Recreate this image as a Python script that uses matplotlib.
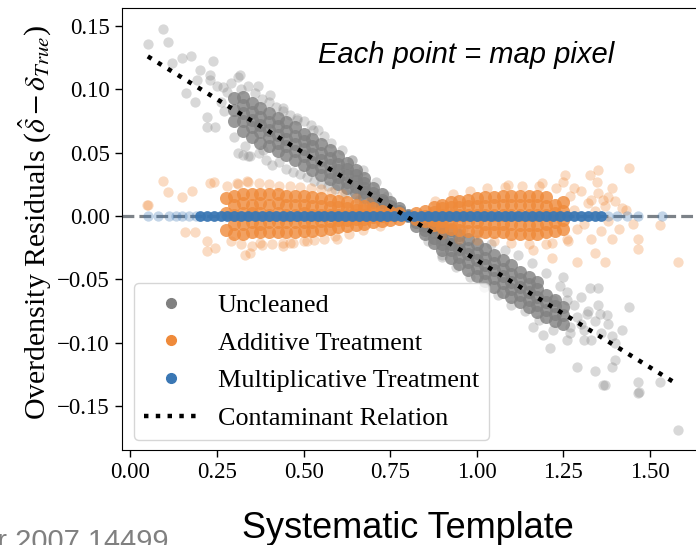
import matplotlib
matplotlib.use("Agg")
import matplotlib.pyplot as plt
from matplotlib.lines import Line2D

# cores (columns of x, with the y values read in each column)
grey_left_cols = [0.300, 0.325, 0.350, 0.375, 0.400, 0.425, 0.450, 0.475, 0.500, 0.525, 0.550,
                  0.575, 0.600, 0.625, 0.650, 0.675, 0.700, 0.725, 0.750, 0.775, 0.800]
grey_left_vals = [
    [0.075, 0.084, 0.093],
    [0.067, 0.075, 0.081, 0.088, 0.094],
    [0.062, 0.070, 0.076, 0.082, 0.089],
    [0.058, 0.066, 0.072, 0.078, 0.085],
    [0.055, 0.062, 0.068, 0.074, 0.081],
    [0.051, 0.058, 0.064, 0.071, 0.077],
    [0.048, 0.055, 0.061, 0.067, 0.074],
    [0.044, 0.051, 0.057, 0.063, 0.070],
    [0.040, 0.047, 0.053, 0.059, 0.065],
    [0.036, 0.043, 0.049, 0.055, 0.061],
    [0.032, 0.039, 0.044, 0.050, 0.057],
    [0.029, 0.035, 0.040, 0.046, 0.052],
    [0.025, 0.031, 0.036, 0.041, 0.047],
    [0.022, 0.027, 0.032, 0.037, 0.042],
    [0.018, 0.023, 0.028, 0.032, 0.036],
    [0.015, 0.019, 0.022, 0.026, 0.030],
    [0.011, 0.015, 0.018, 0.022],
    [0.008, 0.011, 0.013, 0.017],
    [0.005, 0.008, 0.011],
    [0.002, 0.004, 0.006],
    [0.000, 0.001],
]
grey_right_cols = [0.825, 0.850, 0.875, 0.900, 0.925, 0.950, 0.975, 1.000, 1.025, 1.050,
                   1.075, 1.100, 1.125, 1.150, 1.175, 1.200, 1.225, 1.250]
grey_right_vals = [
    [-0.008, -0.005, -0.002],
    [-0.014, -0.011, -0.008, -0.005],
    [-0.021, -0.017, -0.013, -0.009, -0.006],
    [-0.027, -0.022, -0.018, -0.013, -0.009],
    [-0.033, -0.027, -0.022, -0.017, -0.011],
    [-0.038, -0.032, -0.026, -0.021, -0.015],
    [-0.043, -0.036, -0.030, -0.025, -0.018],
    [-0.047, -0.041, -0.035, -0.029, -0.022],
    [-0.051, -0.045, -0.039, -0.033, -0.026],
    [-0.056, -0.049, -0.043, -0.037, -0.031],
    [-0.060, -0.053, -0.047, -0.042, -0.035],
    [-0.064, -0.058, -0.052, -0.046, -0.039],
    [-0.068, -0.062, -0.056, -0.050, -0.044],
    [-0.072, -0.066, -0.060, -0.054, -0.048],
    [-0.076, -0.070, -0.064, -0.058, -0.052],
    [-0.080, -0.074, -0.068, -0.062],
    [-0.083, -0.077, -0.071, -0.066],
    [-0.085, -0.078, -0.072],
]
grey_halo_x = [0.29, 0.30, 0.31, 0.31, 0.32, 0.33, 0.34, 0.34, 0.36, 0.37, 0.38, 0.39, 0.40, 0.41,
               0.42, 0.43, 0.44, 0.45, 0.46, 0.47, 0.48, 0.49, 0.50, 0.51, 0.52, 0.53, 0.54, 0.55,
               0.56, 0.57, 0.58, 0.59, 0.61, 0.62, 0.64, 0.66, 0.67, 0.69, 0.71, 0.74,
               0.325, 0.345, 0.317, 0.368, 0.403, 0.44, 0.48, 0.527, 0.64, 0.383,
               0.86, 0.88, 0.90, 0.92, 0.94, 0.96, 0.98, 1.00, 1.02, 1.04, 1.06, 1.08, 1.10, 1.12,
               1.14, 1.16, 1.18, 1.20, 1.22, 1.24, 1.26, 1.27, 1.28, 1.29, 1.30, 1.31, 1.32, 1.33,
               1.34, 1.35, 1.36, 1.38, 1.40, 1.42]
grey_halo_y = [0.105, 0.062, 0.110, 0.050, 0.100, 0.055, 0.103, 0.047, 0.097, 0.050, 0.092, 0.044,
               0.090, 0.040, 0.086, 0.043, 0.083, 0.037, 0.080, 0.035, 0.077, 0.033, 0.075, 0.031,
               0.072, 0.028, 0.068, 0.025, 0.063, 0.024, 0.058, 0.021, 0.052, 0.018, 0.044, 0.013,
               0.036, 0.009, 0.027, 0.016,
               0.048, 0.047, 0.111, 0.103, 0.0955, 0.085, 0.076, 0.068, 0.044, 0.052,
               -0.020, -0.003, -0.032, -0.005, -0.040, -0.010, -0.048, -0.014, -0.056, -0.022,
               -0.062, -0.027, -0.070, -0.031, -0.075, -0.037, -0.082, -0.045, -0.090, -0.055,
               -0.060, -0.092, -0.070, -0.080, -0.064, -0.090, -0.075, -0.098, -0.083, -0.070,
               -0.092, -0.085, -0.100, -0.090]
grey_out_x = [0.05, 0.094, 0.108, 0.12, 0.149, 0.175, 0.238, 0.16, 0.192, 0.186, 0.22, 0.22, 0.244,
              0.23, 0.267, 0.20, 0.23, 0.26, 0.27, 0.28, 0.25,
              1.21, 1.29, 1.34, 1.37, 1.39, 1.44, 1.466, 1.466, 1.53, 1.58, 1.163, 1.19, 1.25, 1.327,
              1.35, 1.356, 1.375, 1.39, 1.40, 1.26, 1.31, 1.30, 1.27, 1.22, 1.26, 1.318, 0.90, 1.365,
              1.468]
grey_out_y = [0.136, 0.148, 0.137, 0.121, 0.125, 0.126, 0.122, 0.097, 0.107, 0.090, 0.078, 0.070,
              0.070, 0.107, 0.102, 0.115, 0.111, 0.090, 0.083, 0.098, 0.103,
              -0.104, -0.119, -0.122, -0.133, -0.119, -0.072, -0.131, -0.140, -0.131, -0.169,
              -0.0875, -0.094, -0.048, -0.057, -0.057, -0.077, -0.078, -0.095, -0.114, -0.098,
              -0.098, -0.085, -0.0875, -0.066, -0.066, -0.077, -0.031, -0.133, -0.139]

orange_left_cols = [0.275, 0.300, 0.325, 0.350, 0.375, 0.400, 0.425, 0.450, 0.475, 0.500, 0.525,
                    0.550, 0.575, 0.600, 0.625, 0.650, 0.675, 0.700, 0.725, 0.750, 0.775]
orange_left_vals = [
    [-0.011, 0.002, 0.014],
    [-0.014, -0.006, 0.001, 0.009, 0.016],
    [-0.014, -0.006, 0.002, 0.010, 0.017],
    [-0.013, -0.005, 0.002, 0.009, 0.017],
    [-0.013, -0.006, 0.002, 0.010, 0.017],
    [-0.013, -0.005, 0.001, 0.009, 0.017],
    [-0.013, -0.005, 0.002, 0.010, 0.017],
    [-0.013, -0.005, 0.001, 0.009, 0.016],
    [-0.013, -0.005, 0.001, 0.009, 0.016],
    [-0.012, -0.005, 0.002, 0.009, 0.016],
    [-0.012, -0.005, 0.001, 0.008, 0.015],
    [-0.011, -0.004, 0.001, 0.008, 0.014],
    [-0.010, -0.004, 0.001, 0.007, 0.013],
    [-0.009, -0.003, 0.001, 0.007, 0.012],
    [-0.008, -0.003, 0.001, 0.006, 0.011],
    [-0.007, -0.002, 0.001, 0.005, 0.009],
    [-0.006, -0.002, 0.001, 0.005, 0.008],
    [-0.005, -0.001, 0.002, 0.006],
    [-0.004, 0.000, 0.004],
    [-0.003, 0.001, 0.003],
    [-0.002, 0.002],
]
orange_right_cols = [0.825, 0.850, 0.875, 0.900, 0.925, 0.950, 0.975, 1.000, 1.025, 1.050,
                     1.075, 1.100, 1.125, 1.150, 1.175, 1.200, 1.225, 1.250]
orange_right_vals = [
    [-0.002, 0.002],
    [-0.004, 0.000, 0.004],
    [-0.007, -0.003, 0.003, 0.007],
    [-0.009, -0.004, 0.001, 0.006, 0.009],
    [-0.010, -0.005, 0.001, 0.007, 0.011],
    [-0.011, -0.005, 0.001, 0.007, 0.012],
    [-0.012, -0.005, 0.001, 0.008, 0.013],
    [-0.012, -0.005, 0.001, 0.008, 0.014],
    [-0.013, -0.006, 0.001, 0.008, 0.015],
    [-0.013, -0.006, 0.001, 0.009, 0.015],
    [-0.013, -0.006, 0.001, 0.009, 0.016],
    [-0.014, -0.006, 0.001, 0.009, 0.016],
    [-0.014, -0.007, 0.001, 0.009, 0.016],
    [-0.014, -0.007, 0.001, 0.009, 0.016],
    [-0.014, -0.007, 0.001, 0.009, 0.016],
    [-0.013, -0.006, 0.001, 0.008, 0.015],
    [-0.012, -0.005, 0.002, 0.009],
    [-0.010, -0.003, 0.004, 0.011],
]
orange_halo_x = [0.28, 0.29, 0.31, 0.32, 0.34, 0.35, 0.37, 0.38, 0.40, 0.41, 0.43, 0.44, 0.46,
                 0.47, 0.49, 0.50, 0.52, 0.53, 0.55, 0.56, 0.58, 0.59, 0.61, 0.63, 0.65, 0.67,
                 0.69, 0.72,
                 0.88, 0.90, 0.93, 0.95, 0.98, 1.00, 1.03, 1.05, 1.08, 1.10, 1.13, 1.15, 1.18,
                 1.20, 1.23, 1.26, 1.27, 1.28, 1.29, 1.30, 1.31, 1.32, 1.33, 1.34, 1.35, 1.36,
                 1.37, 1.38, 1.40, 1.41, 1.42, 1.45]
orange_halo_y = [0.024, -0.020, 0.025, -0.022, 0.027, -0.024, 0.026, -0.023, 0.025, -0.022,
                 0.024, -0.021, 0.024, -0.021, 0.023, -0.020, 0.022, -0.019, 0.021, -0.018,
                 0.019, -0.016, 0.017, -0.014, 0.014, -0.011, 0.011, -0.008,
                 0.012, -0.014, 0.017, -0.018, 0.020, -0.019, 0.022, -0.020, 0.023, -0.021,
                 0.024, -0.022, 0.024, -0.022, 0.022, -0.018, 0.016, 0.005, -0.010, 0.020,
                 -0.006, 0.010, -0.018, 0.004, 0.018, -0.012, 0.008, -0.004, 0.012, -0.010,
                 0.006, -0.006]
orange_out_x = [0.094, 0.05, 0.108, 0.149, 0.177, 0.23, 0.24, 0.308, 0.336,
                0.048, 0.157, 0.186, 0.22, 0.22, 0.244, 0.33, 0.345, 0.374, 0.44, 0.46, 0.51, 0.596,
                1.09, 1.188, 1.255, 1.25, 1.28, 1.327, 1.35, 1.347, 1.39, 1.44, 1.33, 1.365, 1.38,
                1.43, 1.163, 1.217, 1.29, 1.34, 1.37, 1.39, 1.466, 1.466, 1.53, 1.58, 1.263, 1.217]
orange_out_y = [0.028, 0.009, 0.019, 0.015, 0.020, 0.026, 0.027, 0.026, 0.028,
                0.009, -0.0126, -0.013, -0.020, -0.028, -0.025, -0.031, -0.029, -0.021, -0.024,
                -0.021, -0.020, -0.018,
                0.0245, 0.026, 0.032, 0.027, 0.022, 0.032, 0.036, 0.027, 0.022, 0.038, 0.0126,
                0.0126, 0.015, 0.005, -0.027, -0.033, -0.036, -0.029, -0.036, -0.018, -0.018,
                -0.026, -0.007, -0.036, -0.020, -0.021]

blue_core_x = [0.20, 0.22, 0.24, 0.26, 0.28, 0.30, 0.32, 0.34, 0.36, 0.38, 0.40, 0.42, 0.44, 0.46,
               0.48, 0.50, 0.52, 0.54, 0.56, 0.58, 0.60, 0.62, 0.64, 0.66, 0.68, 0.70, 0.72, 0.74,
               0.76, 0.78, 0.80, 0.82, 0.84, 0.86, 0.88, 0.90, 0.92, 0.94, 0.96, 0.98, 1.00, 1.02,
               1.04, 1.06, 1.08, 1.10, 1.12, 1.14, 1.16, 1.18, 1.20, 1.22, 1.24, 1.26, 1.28, 1.30,
               1.32, 1.34, 1.36]
blue_core_y = [0.0, 0.0, 0.0, 0.0, 0.0, 0.0, 0.0, 0.0, 0.0, 0.0, 0.0, 0.0, 0.0, 0.0,
               0.0, 0.0, 0.0, 0.0, 0.0, 0.0, 0.0, 0.0, 0.0, 0.0, 0.0, 0.0, 0.0, 0.0,
               0.0, 0.0, 0.0, 0.0, 0.0, 0.0, 0.0, 0.0, 0.0, 0.0, 0.0, 0.0, 0.0, 0.0,
               0.0, 0.0, 0.0, 0.0, 0.0, 0.0, 0.0, 0.0, 0.0, 0.0, 0.0, 0.0, 0.0, 0.0,
               0.0, 0.0, 0.0]
blue_tail_x = [0.05, 0.08, 0.11, 0.13, 0.15, 0.17, 0.19, 1.38, 1.405, 1.434, 1.466, 1.535]
blue_tail_y = [0.0, 0.0, 0.0, 0.0, 0.0, 0.0, 0.0, 0.0, 0.0, 0.0, 0.0, 0.0]

relation_x = [0.05, 1.58]
relation_y = [0.126, -0.133]

xticks = [0.00, 0.25, 0.50, 0.75, 1.00, 1.25, 1.50]
yticks = [-0.15, -0.10, -0.05, 0.00, 0.05, 0.10, 0.15]

GREY = "#808080"
ORANGE = "#ef8a3a"
BLUE = "#3a77b4"


def flat(cols, vals):
    xs = [c for c, v in zip(cols, vals) for _ in v]
    ys = [y for v in vals for y in v]
    return xs, ys


plt.rcParams["font.family"] = ["Liberation Serif", "DejaVu Serif"]
plt.rcParams["mathtext.fontset"] = "stix"

fig = plt.figure(figsize=(6.96, 5.45), dpi=100)
ax = fig.add_axes([121.7 / 696, 95 / 545, 578.3 / 696, 442 / 545])

ax.axhline(0, color="#7c8288", ls="--", lw=2.3, zorder=1)

S_OUT = 55
S_CORE = 88
gx, gy = flat(grey_left_cols + grey_right_cols, grey_left_vals + grey_right_vals)
ax.scatter(grey_out_x + grey_halo_x, grey_out_y + grey_halo_y, s=S_OUT, color=GREY, alpha=0.3,
           linewidths=0, zorder=2)
ax.scatter(gx, gy, s=S_CORE, color=GREY, alpha=0.8, linewidths=0, zorder=2)

ox, oy = flat(orange_left_cols + orange_right_cols, orange_left_vals + orange_right_vals)
ax.scatter(orange_out_x + orange_halo_x, orange_out_y + orange_halo_y, s=S_OUT, color=ORANGE,
           alpha=0.3, linewidths=0, zorder=3)
ax.scatter(ox, oy, s=S_CORE, color=ORANGE, alpha=0.8, linewidths=0, zorder=3)

ax.scatter(blue_tail_x, blue_tail_y, s=S_OUT, color=BLUE, alpha=0.3, linewidths=0, zorder=4)
ax.scatter(blue_core_x, blue_core_y, s=60, color=BLUE, alpha=0.95, linewidths=0, zorder=4)

ax.plot(relation_x, relation_y, color="black", ls=":", lw=3.2, zorder=5)

ax.set_xlim(-0.0254, 1.6445)
ax.set_ylim(-0.1847, 0.1642)
ax.set_xticks(xticks)
ax.set_yticks(yticks)
ax.tick_params(direction="out", length=5, width=1, labelsize=16.5)
ax.spines["right"].set_visible(False)

ax.set_ylabel(r"Overdensity Residuals ($\hat{\delta} - \delta_{True}$)", fontsize=21.5)
ax.yaxis.set_label_coords(-0.117, 0.515)

handles = [
    Line2D([], [], marker="o", ls="", color=GREY, markersize=7),
    Line2D([], [], marker="o", ls="", color=ORANGE, markersize=7),
    Line2D([], [], marker="o", ls="", color=BLUE, markersize=7),
    Line2D([], [], color="black", ls=":", lw=3.2),
]
labels = ["Uncleaned", "Additive Treatment", "Multiplicative Treatment", "Contaminant Relation"]
ax.legend(handles, labels, loc="lower left", bbox_to_anchor=(0.0213, 0.022), borderaxespad=0,
          fontsize=18.8, labelspacing=0.55)

fig.text(318 / 696, 1 - 63 / 545, "Each point = map pixel", fontsize=21, style="italic",
         family="Liberation Sans", va="baseline", ha="left")

fig.text(407.5 / 696, 7 / 545, "Systematic Template", fontsize=26, family="Liberation Sans",
         ha="center", va="baseline")
fig.text(169 / 696, -5 / 545, "Weaverdyck & Huterer 2007.14499", fontsize=21,
         family="Liberation Sans", color="#808080", ha="right", va="baseline")

fig.savefig("out.png", dpi=100)
